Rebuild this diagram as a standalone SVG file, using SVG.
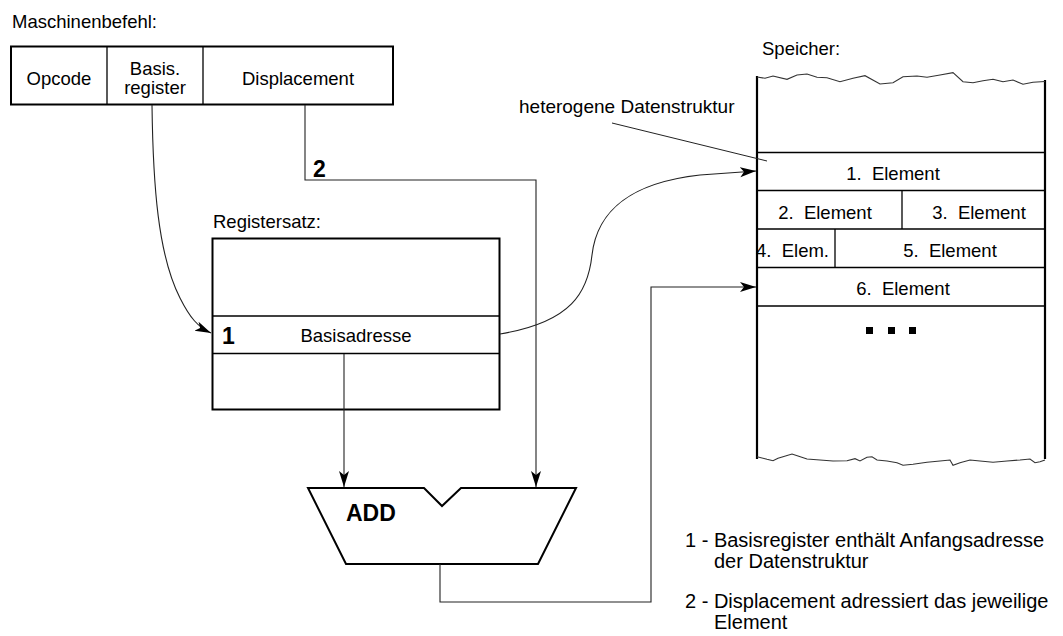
<svg xmlns="http://www.w3.org/2000/svg" width="1063" height="636" viewBox="0 0 1063 636">
  <style>
    text { font-family: "Liberation Sans", Arial, sans-serif; fill: #000; }
    .t { font-size: 18.5px; }
    .c { text-anchor: middle; }
    .num { font-size: 23px; font-weight: bold; }
    .legend { font-size: 20px; }
    .box { fill: #fff; stroke: #000; stroke-width: 2; }
    .sep { fill: none; stroke: #000; stroke-width: 1.3; }
    .wire { fill: none; stroke: #222; stroke-width: 1.1; }
    .wave { fill: none; stroke: #333; stroke-width: 1.1; }
  </style>
  <defs>
    <marker id="arrow" markerUnits="userSpaceOnUse" markerWidth="18" markerHeight="12" refX="16" refY="5" orient="auto">
      <path d="M0,0 L16,5 L0,10 L4,5 z" fill="#000"/>
    </marker>
  </defs>

  <rect width="1063" height="636" fill="#fff"/>

  <!-- Maschinenbefehl: instruction word -->
  <g id="instruction">
    <text class="t" x="12" y="28">Maschinenbefehl:</text>
    <rect class="box" x="11" y="46.5" width="382" height="58"/>
    <line class="sep" x1="107" y1="46.5" x2="107" y2="104.5"/>
    <line class="sep" x1="203" y1="46.5" x2="203" y2="104.5"/>
    <text class="t c" x="59" y="85">Opcode</text>
    <text class="t c" x="155" y="75">Basis.</text>
    <text class="t c" x="155" y="94">register</text>
    <text class="t c" x="298" y="85">Displacement</text>
  </g>

  <!-- Registersatz: register file -->
  <g id="registers">
    <text class="t" x="213" y="228">Registersatz:</text>
    <rect class="box" x="212.5" y="238.5" width="287" height="171"/>
    <line class="sep" x1="212.5" y1="316" x2="499.5" y2="316"/>
    <line class="sep" x1="212.5" y1="353.5" x2="499.5" y2="353.5"/>
    <text class="num" x="222" y="344">1</text>
    <text class="t c" x="356" y="342">Basisadresse</text>
  </g>

  <!-- ADD unit -->
  <g id="adder">
    <path d="M308,488 L424,488 L442,506 L461,488 L576,488 L538,564 L346,564 Z" fill="#fff" stroke="#000" stroke-width="2" stroke-linejoin="miter"/>
    <text class="num" x="346" y="521">ADD</text>
  </g>

  <!-- Speicher: memory -->
  <g id="memory">
    <text class="t" x="762" y="55">Speicher:</text>
    <line x1="757" y1="76" x2="757" y2="459" stroke="#000" stroke-width="2.2"/>
    <line x1="1045" y1="80" x2="1045" y2="459" stroke="#000" stroke-width="2.2"/>
    <path class="wave" d="M757,77 L765,78.3 L773,76 L787,79.3 L797,75 L807,74 L817,77.3 L827,77.7 L840,81.7 L853,78.3 L865,75.7 L880,84 L893,82.7 L903,76.7 L917,76 L927,77.3 L940,75 L953,72.7 L963,81.7 L973,82.7 L983,80.7 L993,79.3 L1003,81.7 L1013,80 L1023,84.3 L1033,82.3 L1045,81.5"/>
    <path class="wave" d="M757,456.7 L767,459.3 L773,460.7 L778,458.3 L783,456.7 L792,454 L798,456 L807,459 L820,460 L833,461 L847,460.7 L855,458.7 L860,461 L867,457.3 L872,456.7 L877,460 L887,461 L897,462.7 L903,465.3 L913,464.3 L927,462.3 L940,461 L950,460 L953,465.3 L960,462.7 L970,460 L980,461 L993,462.3 L1007,461 L1020,460 L1030,459 L1035,462.7 L1040,461.7 L1045,460"/>
    <line class="sep" x1="757" y1="152.5" x2="1045" y2="152.5"/>
    <line class="sep" x1="757" y1="190.5" x2="1045" y2="190.5"/>
    <line class="sep" x1="757" y1="229" x2="1045" y2="229"/>
    <line class="sep" x1="757" y1="267.5" x2="1045" y2="267.5"/>
    <line class="sep" x1="757" y1="306" x2="1045" y2="306"/>
    <line class="sep" x1="902" y1="190.5" x2="902" y2="229"/>
    <line class="sep" x1="835" y1="229" x2="835" y2="267.5"/>
    <text class="t c" x="893" y="180">1.&#160; Element</text>
    <text class="t c" x="825" y="218.5">2.&#160; Element</text>
    <text class="t c" x="979" y="218.5">3.&#160; Element</text>
    <text class="t" x="756" y="257">4.&#160; Elem.</text>
    <text class="t c" x="950" y="257">5.&#160; Element</text>
    <text class="t c" x="903" y="295">6.&#160; Element</text>
    <rect x="866" y="327" width="7" height="7" fill="#000"/>
    <rect x="888" y="327" width="7" height="7" fill="#000"/>
    <rect x="909" y="327" width="7" height="7" fill="#000"/>
  </g>

  <!-- label for the record layout -->
  <g id="record-label">
    <text class="t" x="519" y="113" style="font-size:19px">heterogene Datenstruktur</text>
    <line x1="612" y1="123" x2="767" y2="161" stroke="#222" stroke-width="1"/>
  </g>

  <!-- connectors -->
  <g id="connectors">
    <path class="wire" d="M152,105 C153,185 158,255 180,298 C190,318 198,327 211,333" marker-end="url(#arrow)"/>
    <path class="wire" d="M305,105 V180 H536 V487" marker-end="url(#arrow)"/>
    <path class="wire" d="M344,354 V487" marker-end="url(#arrow)"/>
    <path class="wire" d="M500,334 C572,322 588,292 592,255 C597,212 628,183 700,175 L756,171" marker-end="url(#arrow)"/>
    <path class="wire" d="M440,564 V602 H651 V287 H756" marker-end="url(#arrow)"/>
    <text class="num" x="313" y="177">2</text>
  </g>

  <!-- legend -->
  <g id="legend">
    <text class="legend" x="685" y="547">1 - Basisregister enthält Anfangsadresse</text>
    <text class="legend" x="714" y="568">der Datenstruktur</text>
    <text class="legend" x="685" y="608">2 - Displacement adressiert das jeweilige</text>
    <text class="legend" x="714" y="629">Element</text>
  </g>
</svg>
